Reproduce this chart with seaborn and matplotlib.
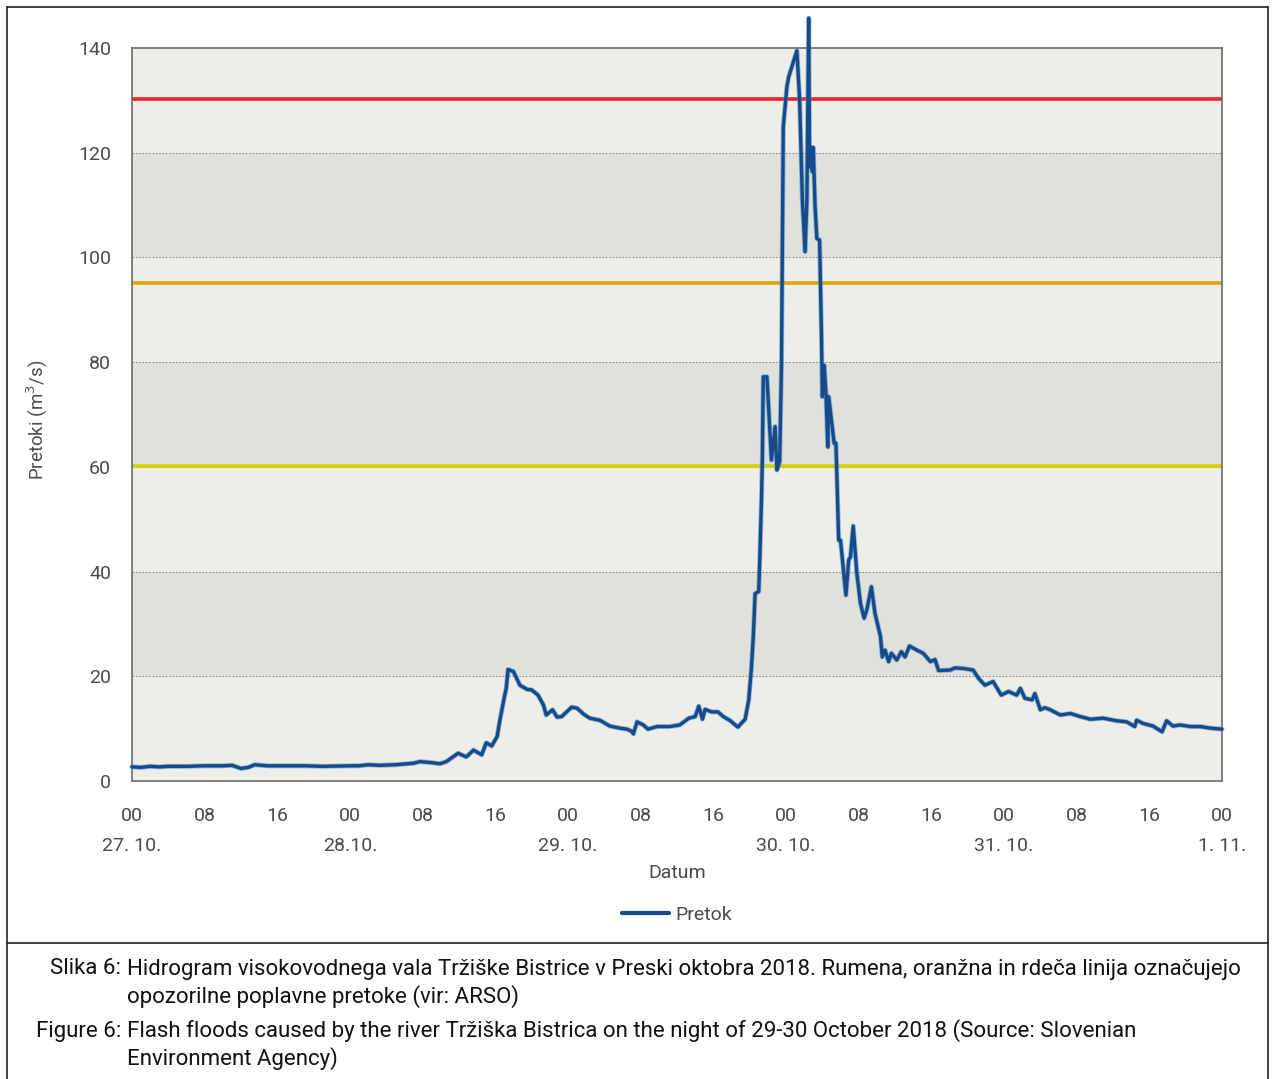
import matplotlib
matplotlib.use("Agg")
import matplotlib.pyplot as plt
import matplotlib.patheffects as pe
from matplotlib.lines import Line2D
import seaborn as sns
import pandas as pd

# ---- data ----
hours = [0, 1, 2, 3, 4, 6, 8, 10, 11, 12, 12.8, 13.5, 15, 17, 19, 21, 24, 25, 26, 27.3,
         29, 31, 31.7, 33, 33.9, 34.6, 35.9, 36.8, 37.6, 38.5, 39.0, 39.6, 40.2, 40.5, 41.0,
         41.2, 41.4, 42.0, 42.7, 43.5, 44.0, 44.7, 45.3, 45.6, 46.3, 46.8, 47.3, 48.4, 49.0,
         49.7, 50.4, 51.5, 52.6, 53.7, 54.5, 55.0, 55.2, 55.6, 56.3, 56.8, 57.8, 59.2, 60.3,
         61.3, 62.0, 62.4, 62.8, 63.1, 63.8, 64.5, 65.1, 65.8, 66.7, 67.5, 67.9, 68.2, 68.4,
         68.6, 69.0, 69.1, 69.3, 69.4, 69.5, 69.9, 70.4, 70.8, 71.0, 71.3, 71.5, 71.7, 72.1,
         72.3, 73.2, 73.5, 73.8, 74.1, 74.3, 74.5, 74.6, 74.7, 74.9, 75.0, 75.2, 75.4, 75.7,
         75.9, 76.0, 76.2, 76.4, 76.6, 76.7, 77.0, 77.3, 77.5, 77.8, 78.0, 78.6, 78.9, 79.1,
         79.4, 79.8, 80.2, 80.6, 80.9, 81.4, 81.8, 82.4, 82.6, 82.9, 83.3, 83.6, 84.2, 84.7,
         85.1, 85.6, 86.4, 87.1, 87.9, 88.4, 88.8, 90.1, 90.6, 91.5, 92.6, 93.2, 93.9, 94.8,
         95.7, 96.5, 97.4, 97.8, 98.3, 99.1, 99.4, 100.0, 100.5, 101.1, 102.2, 103.3, 104.4,
         105.5, 106.9, 108.4, 109.5, 110.4, 110.6, 111.3, 112.4, 113.4, 113.9, 114.6, 115.4,
         116.5, 117.6, 118.7, 120.0]
flow = [2.7, 2.6, 2.8, 2.7, 2.8, 2.8, 2.9, 2.9, 3.0, 2.4, 2.6, 3.1, 2.9, 2.9, 2.9, 2.8, 2.9, 2.9, 3.1, 3.0,
        3.1, 3.4, 3.7, 3.5, 3.3, 3.7, 5.3, 4.6, 5.9, 5.0, 7.3, 6.7, 8.5, 11.6, 16.1,
        17.7, 21.3, 20.9, 18.3, 17.5, 17.4, 16.4, 14.5, 12.6, 13.6, 12.2, 12.3, 14.1, 13.9,
        12.8, 12.0, 11.6, 10.5, 10.1, 9.9, 9.5, 9.0, 11.3, 10.7, 9.9, 10.4, 10.4, 10.7,
        12.0, 12.3, 14.3, 11.8, 13.7, 13.2, 13.2, 12.3, 11.6, 10.3, 11.8, 15.5, 21.8, 27.6,
        35.8, 36.2, 41.6, 53.7, 62.0, 77.2, 77.2, 61.3, 67.7, 59.4, 61.0, 79.1, 125.0, 132.6,
        134.5, 139.5, 130.1, 111.0, 101.1, 111.0, 145.7, 117.3, 121.1, 116.4, 121.0, 109.7, 103.6, 103.3,
        85.5, 73.4, 79.4, 74.0, 63.8, 73.4, 68.9, 64.5, 64.5, 46.0, 46.0, 35.5, 42.2, 42.8,
        48.7, 39.7, 33.9, 31.1, 32.7, 37.1, 32.0, 27.6, 23.7, 25.0, 22.8, 24.4, 23.1, 24.7,
        23.7, 25.8, 25.0, 24.4, 22.8, 23.2, 21.1, 21.2, 21.6, 21.5, 21.2, 19.6, 18.3, 19.0,
        16.4, 17.1, 16.4, 17.7, 15.8, 15.5, 16.7, 13.6, 14.0, 13.6, 12.6, 12.9, 12.3,
        11.8, 12.0, 11.5, 11.3, 10.4, 11.6, 11.0, 10.5, 9.4, 11.5, 10.5, 10.7,
        10.4, 10.4, 10.1, 9.9]

thresholds = [130.3, 95.1, 60.1]
threshold_colors = ["#e8242c", "#e0a400", "#d9d000"]

hour_ticks = list(range(0, 121, 8))
hour_labels = ["00", "08", "16"] * 5 + ["00"]
date_pos = [0, 24, 48, 72, 96, 120]
date_labels = ["27. 10.", "28.10.", "29. 10.", "30. 10.", "31. 10.", "1. 11."]
y_ticks = [0, 20, 40, 60, 80, 100, 120, 140]

caption_sl_1 = "Hidrogram visokovodnega vala Tržiške Bistrice v Preski oktobra 2018. Rumena, oranžna in rdeča linija označujejo"
caption_sl_2 = "opozorilne poplavne pretoke (vir: ARSO)"
caption_en_1 = "Flash floods caused by the river Tržiška Bistrica on the night of 29-30 October 2018 (Source: Slovenian"
caption_en_2 = "Environment Agency)"

df = pd.DataFrame({"h": hours, "q": flow})

# ---- style ----
sns.set_theme(style="white")
plt.rcParams["font.family"] = ["Roboto", "DejaVu Sans"]

W, H = 1274, 1079
TXT = "#4a4a4a"
fig = plt.figure(figsize=(W / 100, H / 100), dpi=100)
ax = fig.add_axes([132 / W, 1 - 781 / H, (1222 - 132) / W, (781 - 48) / H])

ax.set_facecolor("#eeeee9")
for i, lo in enumerate(range(0, 140, 20)):
    if i % 2 == 1:
        ax.axhspan(lo, lo + 20, color="#e1e1dc", zorder=0, lw=0)
for yv in range(20, 140, 20):
    ax.axhline(yv, color="#8a8a8a", lw=0.8, ls=(0, (1.5, 1.5)), zorder=1)

for t, c in zip(thresholds, threshold_colors):
    ax.axhline(t, color=c, lw=2.6, zorder=2)

sns.lineplot(data=df, x="h", y="q", ax=ax, color="#174a8b", lw=2.4, zorder=5,
             label="Pretok", legend=False)
ln = ax.lines[-1]
ln.set_clip_on(False)
ln.set_path_effects([pe.Stroke(linewidth=3.6, foreground="#4f95c9", alpha=0.6), pe.Normal()])

ax.set_xlim(0, 120)
ax.set_ylim(0, 140)
ax.set_xticks(hour_ticks)
ax.set_xticklabels(hour_labels)
ax.set_yticks(y_ticks)
ax.tick_params(axis="both", direction="out", colors="#333333", labelcolor=TXT,
               labelsize=14, width=1.1)
ax.tick_params(axis="x", length=11, pad=8)
ax.tick_params(axis="y", length=9, pad=6)
for s in ax.spines.values():
    s.set_color("#6b6b6b")
    s.set_linewidth(1.2)

ax.set_xlabel("")
ax.set_ylabel("")
tr = ax.get_xaxis_transform()
for p, lab in zip(date_pos, date_labels):
    ax.text(p, -0.089, lab, transform=tr, ha="center", va="center", fontsize=14, color=TXT)
ax.text(60, -0.125, "Datum", transform=tr, ha="center", va="center", fontsize=14, color=TXT)
fig.text(37 / W, 1 - 420 / H, "Pretoki (m$^3$/s)", rotation=90, ha="center", va="center",
         fontsize=13.5, color=TXT)

handle = Line2D([], [], color="#174a8b", lw=3)
leg = fig.legend([handle], ["Pretok"], loc="center", bbox_to_anchor=(677 / W, 1 - 915 / H),
                 frameon=False, fontsize=14, handlelength=2.4, handletextpad=0.3)
for t in leg.get_texts():
    t.set_color(TXT)

# frame and separator
kw = dict(transform=fig.transFigure, color="#222222", lw=1.2)
fig.add_artist(Line2D([7 / W, 7 / W], [0, 1 - 7 / H], **kw))
fig.add_artist(Line2D([1268 / W, 1268 / W], [0, 1 - 7 / H], **kw))
fig.add_artist(Line2D([7 / W, 1268 / W], [1 - 7 / H, 1 - 7 / H], **kw))
fig.add_artist(Line2D([7 / W, 1268 / W], [1 - 943 / H, 1 - 943 / H], **kw))

cap_fs = 16
cc = "#111111"
fig.text(121 / W, 1 - 969 / H, "Slika 6:", ha="right", va="center", fontsize=cap_fs, color=cc)
fig.text(127 / W, 1 - 969 / H, caption_sl_1, ha="left", va="center", fontsize=cap_fs, color=cc)
fig.text(127 / W, 1 - 997 / H, caption_sl_2, ha="left", va="center", fontsize=cap_fs, color=cc)
fig.text(121 / W, 1 - 1031 / H, "Figure 6:", ha="right", va="center", fontsize=cap_fs, color=cc)
fig.text(127 / W, 1 - 1031 / H, caption_en_1, ha="left", va="center", fontsize=cap_fs, color=cc)
fig.text(127 / W, 1 - 1059 / H, caption_en_2, ha="left", va="center", fontsize=cap_fs, color=cc)

fig.savefig("out.png", dpi=100, facecolor="white")
